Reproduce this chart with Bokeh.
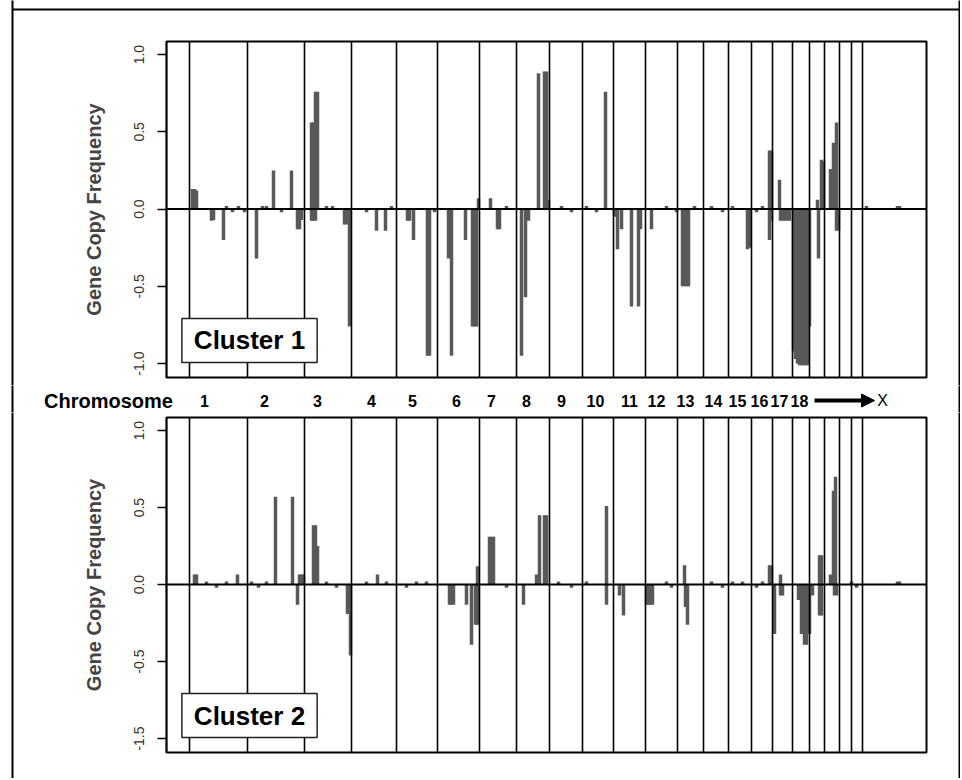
from bokeh.plotting import figure
from bokeh.models import Range1d, FixedTicker, Span, Label, Arrow, NormalHead, ColumnDataSource
from bokeh.layouts import column
from bokeh.embed import file_html
from bokeh.resources import INLINE
from bokeh.core.properties import value

# ---------------- data ----------------
# chromosome boundaries along the genome index axis
chrom_bounds = [23, 81, 138, 185, 230, 271, 313, 350, 383, 416, 447, 479, 511,
                537, 562, 585, 606, 626, 643, 658, 673, 685, 696]
genome_end = 760
chrom_names = ["1", "2", "3", "4", "5", "6", "7", "8", "9", "10", "11", "12",
               "13", "14", "15", "16", "17", "18"]
chrom_label_pos = [38, 98, 151, 205, 246, 290, 325, 360, 395, 429, 463, 490,
                   519, 547, 571, 593, 613, 633]
x_chrom_name = "X"
x_chrom_pos = 716

# Cluster 1 gains / losses (genome index, frequency)
c1_gain_pos = [26, 28, 30, 107, 125, 145, 147, 149, 151, 312, 324, 372, 378, 380,
               382, 439, 603, 605, 613, 651, 655, 657, 664, 667, 670]
c1_gain_val = [0.13, 0.13, 0.12, 0.25, 0.25, 0.56, 0.56, 0.76, 0.76, 0.07, 0.07,
               0.88, 0.89, 0.89, 0.06, 0.76, 0.38, 0.38, 0.19, 0.06, 0.32, 0.31,
               0.26, 0.43, 0.56]
c1_loss_pos = [45, 47, 57, 90, 131, 133, 135, 145, 147, 149, 178, 180, 183, 210,
               219, 241, 243, 247, 261, 263, 282, 285, 299, 306, 308, 310, 331,
               333, 355, 359, 362, 448, 451, 455, 465, 472, 474, 485, 516, 518,
               520, 522, 581, 583, 603, 605, 614, 617, 620, 623, 627, 629, 631,
               633, 635, 637, 639, 641, 643, 652, 670, 672]
c1_loss_val = [-0.075, -0.07, -0.2, -0.32, -0.13, -0.13, -0.07, -0.075, -0.075,
               -0.075, -0.1, -0.1, -0.76, -0.14, -0.14, -0.075, -0.075, -0.2,
               -0.95, -0.95, -0.32, -0.95, -0.2, -0.76, -0.76, -0.76, -0.13,
               -0.13, -0.95, -0.57, -0.075, -0.05, -0.26, -0.13, -0.63, -0.63,
               -0.13, -0.13, -0.5, -0.5, -0.5, -0.5, -0.26, -0.25, -0.2, -0.075,
               -0.075, -0.075, -0.075, -0.075, -0.92, -0.97, -1.0, -1.01, -1.01,
               -1.01, -1.01, -1.01, -0.76, -0.32, -0.14, -0.14]
c1_trace_pos = [60, 66, 72, 78, 96, 100, 115, 160, 166, 200, 225, 268, 340, 395,
                405, 420, 430, 500, 510, 528, 545, 556, 566, 590, 596, 700, 731, 733]
c1_trace_val = [0.02, -0.02, 0.02, -0.02, 0.02, 0.02, -0.02, 0.02, 0.02, -0.02,
                0.02, -0.02, 0.02, 0.02, -0.02, 0.02, -0.02, 0.02, -0.02, 0.02,
                0.02, -0.02, 0.02, -0.02, 0.02, 0.02, 0.02, 0.02]

# Cluster 2 gains / losses
c2_gain_pos = [28, 30, 71, 109, 126, 133, 135, 137, 147, 149, 151, 211, 311, 323,
               325, 327, 370, 373, 378, 380, 440, 518, 603, 605, 614, 653, 655,
               664, 667, 669]
c2_gain_val = [0.065, 0.065, 0.065, 0.57, 0.57, 0.065, 0.065, 0.065, 0.385, 0.385,
               0.25, 0.065, 0.12, 0.31, 0.31, 0.31, 0.065, 0.45, 0.45, 0.45, 0.51,
               0.125, 0.125, 0.125, 0.065, 0.19, 0.19, 0.065, 0.61, 0.70]
c2_loss_pos = [131, 181, 184, 283, 285, 287, 300, 305, 309, 311, 357, 440, 453,
               457, 480, 482, 484, 486, 519, 521, 608, 614, 616, 632, 635, 638,
               640, 643, 646, 653, 655, 668, 670]
c2_loss_val = [-0.13, -0.19, -0.46, -0.13, -0.13, -0.13, -0.13, -0.39, -0.26,
               -0.26, -0.13, -0.13, -0.07, -0.2, -0.13, -0.13, -0.13, -0.13,
               -0.145, -0.26, -0.32, -0.07, -0.07, -0.1, -0.32, -0.39, -0.39,
               -0.32, -0.07, -0.2, -0.2, -0.07, -0.07]
c2_trace_pos = [40, 50, 60, 85, 92, 100, 160, 170, 200, 220, 240, 250, 260, 340,
                392, 405, 420, 500, 505, 545, 556, 566, 576, 590, 596, 685, 690,
                731, 733]
c2_trace_val = [0.02, -0.02, 0.02, 0.02, -0.02, 0.02, 0.02, -0.02, 0.02, 0.02,
                -0.02, 0.02, 0.02, -0.02, 0.02, -0.02, 0.02, 0.02, -0.02, 0.02,
                -0.02, 0.02, 0.02, -0.02, 0.02, 0.02, -0.02, 0.02, 0.02]

y_ticks = [-1.0, -0.5, 0.0, 0.5, 1.0]
top_tick_labels = ["-1.0", "-0.5", "0.0", "0.5", "1.0"]
bottom_tick_labels = ["-1.5", "-0.5", "0.0", "0.5", "1.0"]

# ---------------- style ----------------
FONT = "Liberation Sans"
BAR = "#595959"
W = 960
Y0, Y1 = -1.09, 1.085
LEFT, RIGHT = 166, 34
XL = -(LEFT - 12)            # outer picture frame, left side
XR = genome_end + RIGHT - 1  # outer picture frame, right side


def panel(height, top_b, bot_b, series, tick_labels, title, top_line=False):
    p = figure(width=W, height=height, x_range=Range1d(0, genome_end),
               y_range=Range1d(Y0, Y1), output_backend="svg",
               toolbar_location=None, x_axis_location=None,
               min_border_left=LEFT, min_border_right=RIGHT,
               min_border_top=top_b, min_border_bottom=bot_b)
    p.grid.visible = False
    p.outline_line_color = "black"
    p.outline_line_width = 2
    p.background_fill_color = "white"

    for pos, val in series:
        src = ColumnDataSource(dict(x=pos, y0=[0.0] * len(pos), y1=val))
        p.segment(x0="x", y0="y0", x1="x", y1="y1", source=src,
                  line_color=BAR, line_width=3.5)

    for b in chrom_bounds:
        p.add_layout(Span(location=b, dimension="height", line_color="black",
                          line_width=1.6))
    p.add_layout(Span(location=0, dimension="width", line_color="black",
                      line_width=2))

    ax = p.yaxis[0]
    ax.ticker = FixedTicker(ticks=y_ticks)
    ax.major_label_overrides = {t: l for t, l in zip(y_ticks, tick_labels)}
    ax.major_label_orientation = "vertical"
    ax.major_label_text_font = FONT
    ax.major_label_text_font_size = "14px"
    ax.major_label_text_color = "#333333"
    ax.major_label_standoff = 13
    ax.major_tick_out = 9
    ax.major_tick_in = 0
    ax.major_tick_line_width = 1.5
    ax.minor_tick_line_color = None
    ax.axis_line_color = "black"
    ax.axis_line_width = 1.5
    ax.axis_label = "Gene Copy Frequency"
    ax.axis_label_text_font = FONT
    ax.axis_label_text_font_style = "bold"
    ax.axis_label_text_font_size = "20px"
    ax.axis_label_standoff = 27

    p.add_layout(Label(x=83, y=-0.85, text=title, text_font=FONT,
                       text_font_style="bold", text_font_size="26px",
                       text_color="black",
                       text_align="center", text_baseline="middle",
                       border_line_color="#222222", border_line_width=1.5,
                       background_fill_color="white",
                       padding=dict(left=12, right=12, top=7, bottom=7)))

    # outer picture frame, drawn outside the plot frame
    frame_h = height - top_b - bot_b
    scale = frame_h / (Y1 - Y0)
    y_top = Y1 + top_b / scale
    y_bot = Y0 - bot_b / scale
    p.segment(x0=[XL, XR], y0=[y_bot, y_bot], x1=[XL, XR], y1=[y_top, y_top],
              line_color="black", line_width=2, level="overlay")
    if top_line:
        yl = Y1 + (top_b - 9) / scale
        p.segment(x0=[XL], y0=[yl], x1=[XR], y1=[yl],
                  line_color="black", line_width=2, level="overlay")
    return p


top = panel(385, 41, 8,
            [(c1_gain_pos, c1_gain_val), (c1_loss_pos, c1_loss_val),
             (c1_trace_pos, c1_trace_val)],
            top_tick_labels, "Cluster 1", top_line=True)

bottom = panel(366, 5, 26,
               [(c2_gain_pos, c2_gain_val), (c2_loss_pos, c2_loss_val),
                (c2_trace_pos, c2_trace_val)],
               bottom_tick_labels, "Cluster 2")

# middle row with the chromosome names (same horizontal scale as the panels)
MID_H = 27
mid = figure(width=W, height=MID_H, x_range=Range1d(0, genome_end),
             y_range=Range1d(0, MID_H), output_backend="svg",
             toolbar_location=None, min_border_left=LEFT,
             min_border_right=RIGHT, min_border_top=0, min_border_bottom=0,
             x_axis_location=None, y_axis_location=None)
mid.grid.visible = False
mid.outline_line_color = None
ymid = MID_H - 15
mid.text(x=chrom_label_pos, y=[ymid] * len(chrom_label_pos), text=chrom_names,
         text_font=value(FONT), text_font_style="bold", text_font_size="16px",
         text_align="center", text_baseline="middle", text_color="black",
         level="overlay")
mid.text(x=[x_chrom_pos], y=[ymid], text=[x_chrom_name], text_font=value(FONT),
         text_font_size="16px", text_align="center", text_baseline="middle",
         text_color="black", level="overlay")
mid.text(x=[-58], y=[ymid], text=["Chromosome"], text_font=value(FONT),
         text_font_style="bold", text_font_size="20px", text_align="center",
         text_baseline="middle", text_color="black", level="overlay")
mid.add_layout(Arrow(x_start=chrom_label_pos[-1] + 15, y_start=ymid,
                     x_end=x_chrom_pos - 8, y_end=ymid, line_width=4,
                     line_color="black",
                     end=NormalHead(size=13, fill_color="black",
                                    line_color="black")))
mid.segment(x0=[XL, XR], y0=[0, 0], x1=[XL, XR], y1=[MID_H, MID_H],
            line_color="black", line_width=2, level="overlay")

layout = column(top, mid, bottom, spacing=0)
open("out.html", "w").write(file_html(layout, INLINE))
